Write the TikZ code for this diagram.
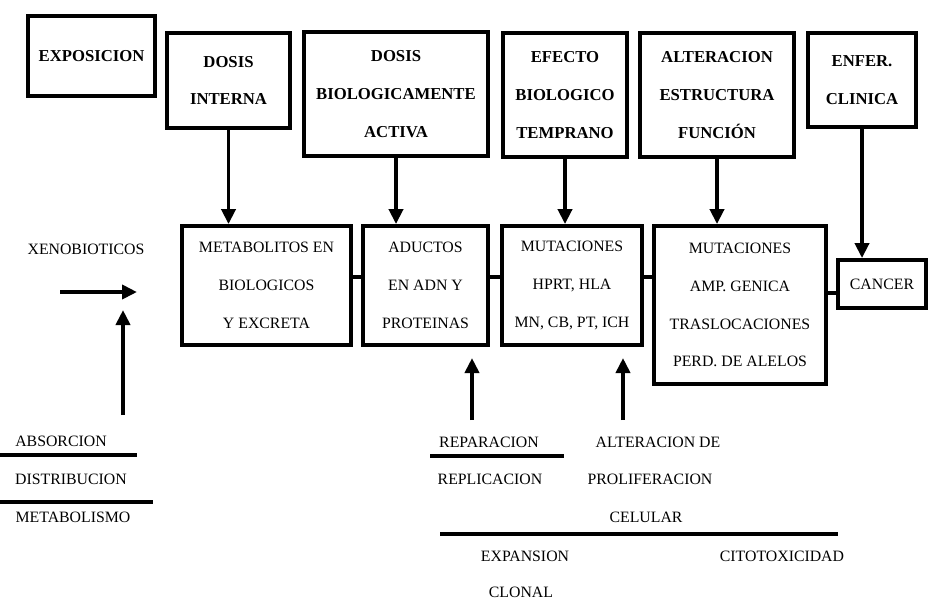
\documentclass[tikz,border=0pt]{standalone}
\usepackage{fontspec}
\setmainfont{Liberation Serif}
\usetikzlibrary{arrows.meta}
\tikzset{
	caja/.style={draw,line width=2.2pt,align=center,inner sep=2pt},
	cajasup/.style={caja,font={\bfseries\fontsize{9.5}{21.5}\selectfont}},
	cajamed/.style={caja,font={\fontsize{9}{21.5}\selectfont}},
	texto/.style={font={\fontsize{9}{11}\selectfont},inner sep=0pt},
	flecha/.style={line width=2.2pt,-{Triangle[length=3mm,width=2.8mm]}},
	raya/.style={line width=2pt}
}

\begin{document}
\begin{tikzpicture}[x=0.02cm,y=-0.02cm]
		\useasboundingbox (0,0) rectangle (929,603);
		% fila superior
		\node[cajasup,minimum width=2.54cm,minimum height=1.6cm] (expo) at (91.5,56) {EXPOSICION};
		\node[cajasup,minimum width=2.46cm,minimum height=1.9cm] (dint) at (228.5,80.5) {DOSIS\\INTERNA};
		\node[cajasup,minimum width=3.68cm,minimum height=2.48cm] (dbio) at (396,94) {DOSIS\\BIOLOGICAMENTE\\ACTIVA};
		\node[cajasup,minimum width=2.48cm,minimum height=2.48cm] (efec) at (565,95) {EFECTO\\BIOLOGICO\\TEMPRANO};
		\node[cajasup,minimum width=3.08cm,minimum height=2.48cm] (alte) at (717,95) {ALTERACION\\ESTRUCTURA\\FUNCIÓN};
		\node[cajasup,minimum width=2.16cm,minimum height=1.88cm] (enfe) at (862,80) {ENFER.\\CLINICA};
		% fila media
		\node[cajamed,minimum width=3.38cm,minimum height=2.38cm] (meta) at (266.5,285.5) {METABOLITOS EN\\BIOLOGICOS\\Y EXCRETA};
		\node[cajamed,minimum width=2.5cm,minimum height=2.38cm] (aduc) at (425.5,285.5) {ADUCTOS\\EN ADN Y\\PROTEINAS};
		\node[cajamed,minimum width=2.8cm,minimum height=2.38cm] (muta) at (572,285.5) {MUTACIONES\\HPRT, HLA\\MN, CB, PT, ICH};
		\node[cajamed,minimum width=3.44cm,minimum height=3.16cm] (mutb) at (740,305) {MUTACIONES\\AMP. GENICA\\TRASLOCACIONES\\PERD. DE ALELOS};
		\node[cajamed,minimum width=1.76cm,minimum height=0.96cm] (canc) at (882,284) {CANCER};
		\draw[caja] ([yshift=5pt]meta.east) -- ([yshift=5pt]aduc.west);
		\draw[caja] ([yshift=5pt]aduc.east) -- ([yshift=5pt]muta.west);
		\draw[caja] ([yshift=5pt]muta.east) -- ([yshift=5pt]muta.east -| mutb.west);
		\draw[caja] ([yshift=-5pt]canc.west -| mutb.east) -- ([yshift=-5pt]canc.west);
		\foreach \a/\b in {dint/meta,dbio/aduc,efec/muta,alte/mutb,enfe/canc}
			\draw[flecha] (\a.south) -- (\a.south |- \b.north);
		% entradas
		\node[texto] (xeno) at (86,249) {XENOBIOTICOS};
		\coordinate (xa) at (60,292);
		\coordinate (xb) at (137,292);
		\coordinate (va) at (123,415);
		\coordinate (vb) at (123,310);
		\draw[flecha] (xa) -- (xb);
		\draw[flecha] (va) -- (vb);
		\node[texto] (abso) at (61,441) {ABSORCION};
		\node[texto] (dist) at (71,479) {DISTRIBUCION};
		\node[texto] (meto) at (73,517) {METABOLISMO};
		\draw[raya] (0,455) -- (137,455);
		\draw[raya] (0,502) -- (153,502);
		% factores abajo
		\coordinate (ra) at (472,420);
		\coordinate (pa) at (623,420);
		\draw[flecha] (ra) -- (ra |- 0,358);
		\draw[flecha] (pa) -- (pa |- 0,358);
		\node[texto] (repa) at (489,442) {REPARACION};
		\node[texto] (repl) at (490,479) {REPLICACION};
		\node[texto] (alpr) at (658,442) {ALTERACION DE};
		\node[texto] (prol) at (650,479) {PROLIFERACION};
		\node[texto] (celu) at (646,517) {CELULAR};
		\node[texto] (expa) at (525,556) {EXPANSION};
		\node[texto] (clon) at (521,592) {CLONAL};
		\node[texto] (cito) at (782,556) {CITOTOXICIDAD};
		\draw[raya] (430,456) -- (564,456);
		\draw[raya] (440,534) -- (838,534);
\end{tikzpicture}
\end{document}
